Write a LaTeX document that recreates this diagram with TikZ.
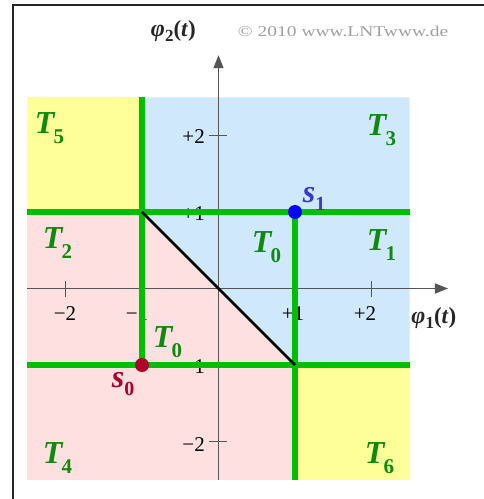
\documentclass[tikz,border=0pt]{standalone}
\usepackage{fontspec}
\setmainfont{Liberation Serif}
\usetikzlibrary{arrows.meta}
\definecolor{yel}{HTML}{FFFF99}
\definecolor{blu}{HTML}{CFE8FC}
\definecolor{pnk}{HTML}{FFE0E0}
\definecolor{grn}{HTML}{00BE00}
\definecolor{lgrn}{HTML}{0E8A0E}
\definecolor{axc}{HTML}{555555}
\definecolor{sblue}{HTML}{3838D0}
\definecolor{dotblue}{HTML}{0000FF}
\definecolor{sred}{HTML}{B0002A}
\definecolor{cpy}{HTML}{A0A0A0}
\newcommand{\Tlab}[1]{{\fontsize{32}{32}\selectfont\bfseries\itshape T}\kern-1pt\raisebox{-10pt}{\fontsize{21}{21}\selectfont\bfseries #1}}
\newcommand{\slab}[1]{{\fontsize{32}{32}\selectfont\bfseries\itshape s}\raisebox{-8pt}{\fontsize{20}{20}\selectfont\bfseries #1}}
\newcommand{\phlab}[1]{{\fontsize{24}{24}\selectfont\bfseries\itshape φ}\raisebox{-5pt}{\fontsize{17}{17}\selectfont\bfseries #1}{\fontsize{23}{23}\selectfont\bfseries (\textit{t})}}
\tikzset{
  txt/.style={inner sep=0pt, outer sep=0pt, anchor=base west},
  ticklab/.style={inner sep=0pt, font=\fontsize{21}{21}\selectfont, text=black},
  bound/.style={grn, line width=6.5pt},
  axis/.style={axc, line width=1.5pt, -{Triangle[length=13pt,width=10pt]}},
  tickm/.style={axc, line width=1.3pt},
}
\begin{document}
\begin{tikzpicture}[x=76.5pt,y=76.5pt]
\useasboundingbox (-218.5pt,-210.5pt) rectangle (265.5pt,288.5pt);
\fill[white] (-218.5pt,-210.5pt) rectangle (265.5pt,288.5pt);
% frame
\draw[line width=2pt, black!85] (-205.5pt,-212pt) -- (-205.5pt,283.5pt) -- (267pt,283.5pt);
% regions
\fill[yel] (-2.5,1) rectangle (-1,2.5);
\fill[yel] (1,-2.5) rectangle (2.5,-1);
\fill[blu] (-1,2.5) -- (2.5,2.5) -- (2.5,-1) -- (1,-1) -- (-1,1) -- cycle;
\fill[pnk] (-2.5,1) -- (-1,1) -- (1,-1) -- (1,-2.5) -- (-2.5,-2.5) -- cycle;
% axes
\coordinate (xs) at (-2.5,0);
\coordinate (xe) at (3.0,0);
\coordinate (ys) at (0,-2.5);
\coordinate (ye) at (0,3.05);
\draw[axis] (xs) -- (xe);
\draw[axis] (ys) -- (ye);
\foreach \v in {-2,-1,1,2} {
  \draw[tickm] (\v,-8pt) -- (\v,8pt);
  \draw[tickm] (-9pt,\v) -- (9pt,\v);
}
% tick labels
\node[ticklab, anchor=base] (xm2) at (-153.5pt,-31.5pt) {−2};
\node[ticklab, anchor=base] (xm1) at (-81.5pt,-31.5pt) {−1};
\node[ticklab, anchor=base] (xp1) at (74.5pt,-31.5pt) {+1};
\node[ticklab, anchor=base] (xp2) at (146.5pt,-31.5pt) {+2};
\node[ticklab, anchor=base east] (yp2) at (-13.5pt,145.5pt) {+2};
\node[ticklab, anchor=base east] (yp1) at (-13.5pt,68.5pt) {+1};
\node[ticklab, anchor=base east] (ym1) at (-13.5pt,-84.5pt) {−1};
\node[ticklab, anchor=base east] (ym2) at (-13.5pt,-162.5pt) {−2};
% decision boundaries
\draw[bound] (-2.5,1) -- (2.5,1);
\draw[bound] (-2.5,-1) -- (2.5,-1);
\draw[bound] (-1,2.5) -- (-1,-1);
\draw[bound] (1,1) -- (1,-2.5);
% diagonal
\coordinate (dA) at (-1,1);
\coordinate (dB) at (1,-1);
\draw[black, line width=2.6pt] (dA) -- (dB);
% signal points
\fill[dotblue] (1,1) circle (7pt);
\fill[sred] (-1,-1) circle (7pt);
\node[txt, text=sblue] (s1) at (84.5pt,86.5pt) {\slab{1}};
\node[txt, text=sred] (s0) at (-106.5pt,-98.5pt) {\slab{0}};
% region labels
\node[txt, text=lgrn] (T5) at (-183.5pt,155.5pt) {\Tlab{5}};
\node[txt, text=lgrn] (T3) at (148.5pt,153.5pt) {\Tlab{3}};
\node[txt, text=lgrn] (T2) at (-175.5pt,40.5pt) {\Tlab{2}};
\node[txt, text=lgrn] (T1) at (148.5pt,38.5pt) {\Tlab{1}};
\node[txt, text=lgrn] (T0a) at (33.5pt,36.5pt) {\Tlab{0}};
\node[txt, text=lgrn] (T0b) at (-65.5pt,-58.5pt) {\Tlab{0}};
\node[txt, text=lgrn] (T4) at (-175.5pt,-174.5pt) {\Tlab{4}};
\node[txt, text=lgrn] (T6) at (146.5pt,-174.5pt) {\Tlab{6}};
% axis labels
\node[txt, text=black!85] (phi2) at (-67.5pt,251.5pt) {\phlab{2}};
\node[txt, text=black!85] (phi1) at (193pt,-34.5pt) {\phlab{1}};
% copyright
\node[txt, text=cpy] (copy) at (19.5pt,252.5pt) {\scalebox{1.3}[1]{\fontsize{15}{15}\selectfont © 2010 www.LNTwww.de}};
\end{tikzpicture}
\end{document}
